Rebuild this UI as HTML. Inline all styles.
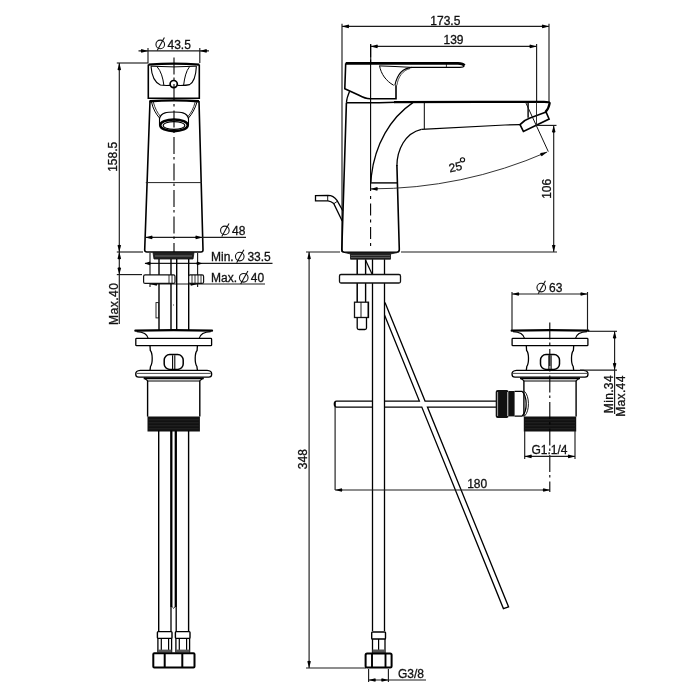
<!DOCTYPE html>
<html><head><meta charset="utf-8"><style>
html,body{margin:0;padding:0;background:#fff;width:700px;height:700px;overflow:hidden}
svg{display:block;will-change:transform}
text{font-family:"Liberation Sans",sans-serif}
</style></head><body>
<svg width="700" height="700" viewBox="0 0 700 700">
<rect width="700" height="700" fill="#fff"/>
<line x1="138.5" y1="50.9" x2="209" y2="50.9" stroke="#1c1c1c" stroke-width="1.15" />
<path d="M148.00,50.90 L141.30,52.70 Q140.10,50.90 141.30,49.10 Z" fill="#000"/>
<path d="M199.80,50.90 L206.50,49.10 Q207.70,50.90 206.50,52.70 Z" fill="#000"/>
<line x1="148" y1="48" x2="148" y2="63" stroke="#1c1c1c" stroke-width="1.15" />
<line x1="199.8" y1="48" x2="199.8" y2="63" stroke="#1c1c1c" stroke-width="1.15" />
<circle cx="160.25" cy="44.4" r="4.3" stroke="#111" stroke-width="1.1" fill="none"/>
<line x1="157.20000000000002" y1="50.6" x2="164.4" y2="37.5" stroke="#111" stroke-width="1.1"/>
<text x="167.5" y="48.9" font-size="12" text-anchor="start" fill="#111" stroke="#111" stroke-width="0.3">43.5</text>
<line x1="119.3" y1="63" x2="119.3" y2="324" stroke="#1c1c1c" stroke-width="1.15" />
<line x1="116.8" y1="63" x2="148" y2="63" stroke="#1c1c1c" stroke-width="1.15" />
<line x1="116.8" y1="252" x2="143" y2="252" stroke="#1c1c1c" stroke-width="1.15" />
<line x1="116.8" y1="274.6" x2="142" y2="274.6" stroke="#1c1c1c" stroke-width="1.15" />
<path d="M119.30,63.00 L121.10,69.70 Q119.30,70.90 117.50,69.70 Z" fill="#000"/>
<path d="M119.30,252.00 L117.50,245.30 Q119.30,244.10 121.10,245.30 Z" fill="#000"/>
<path d="M119.30,252.00 L121.10,258.70 Q119.30,259.90 117.50,258.70 Z" fill="#000"/>
<path d="M119.30,274.60 L117.50,267.90 Q119.30,266.70 121.10,267.90 Z" fill="#000"/>
<text x="117.5" y="171.8" font-size="12" text-anchor="start" fill="#111" stroke="#111" stroke-width="0.3" transform="rotate(-90 117.5 171.8)">158.5</text>
<text x="117.5" y="325" font-size="12" text-anchor="start" fill="#111" stroke="#111" stroke-width="0.3" transform="rotate(-90 117.5 325)" letter-spacing="0.5">Max.40</text>
<path d="M148.3,64.5 L148.3,98.3 L199.3,98.3 L199.3,64.5" stroke="#000" stroke-width="1.6" fill="none" />
<path d="M148.3,64.6 Q174,62.6 199.3,64.6" stroke="#000" stroke-width="2.2" fill="none" />
<path d="M151,66.2 Q174,67.6 196.4,66.2" stroke="#000" stroke-width="1.0" fill="none" />
<path d="M151,66.1 C151.5,74 154,82 160.4,85 C163,85.6 167,85.5 170.2,85.4" stroke="#000" stroke-width="1.1" fill="none" />
<path d="M157,66.6 C161,71 163,78 163.9,85.4" stroke="#000" stroke-width="1.0" fill="none" />
<path d="M196.4,66.1 C196,74 194,82 189.6,84.6 C186,85.6 181,85.5 177.4,85.4" stroke="#000" stroke-width="1.1" fill="none" />
<path d="M189.6,66.6 C186,71 184.5,78 183.6,85.4" stroke="#000" stroke-width="1.0" fill="none" />
<circle cx="173.7" cy="84.1" r="3.6" stroke="#000" stroke-width="1.7" fill="#fff"/>
<path d="M149.5,101.2 Q174,99.6 199,101.2" stroke="#000" stroke-width="2.4" fill="none" />
<path d="M150,101 L144.7,250 Q144.7,252 147,252 L201,252 Q203,252 203,250 L199,101" stroke="#000" stroke-width="1.6" fill="none" />
<line x1="145.8" y1="182.6" x2="201.8" y2="182.6" stroke="#222" stroke-width="1.0" />
<path d="M151.5,102 C153,109 156,114 159.5,118" stroke="#000" stroke-width="1.0" fill="none" />
<path d="M153.3,102 C155,108.5 157.5,113 160.5,116.5" stroke="#000" stroke-width="0.8" fill="none" />
<path d="M197,102 C195,109 192,114 188.5,118" stroke="#000" stroke-width="1.0" fill="none" />
<path d="M195.2,102 C193.5,108.5 191,113 188,116.5" stroke="#000" stroke-width="0.8" fill="none" />
<path d="M159.5,118.5 C161,112 168,112 174,112 C180,112 187,112 188.5,118.5" stroke="#000" stroke-width="1.2" fill="none" />
<path d="M159.5,118 L159.5,125 M188.5,118 L188.5,125" stroke="#000" stroke-width="1.1" fill="none" />
<ellipse cx="174" cy="125.3" rx="13.8" ry="5.9" stroke="#000" stroke-width="2.5" fill="#fff"/>
<ellipse cx="174" cy="125.5" rx="10.8" ry="3.9" stroke="#000" stroke-width="1.1" fill="#fff"/>
<line x1="145.4" y1="237.4" x2="246" y2="237.4" stroke="#1c1c1c" stroke-width="1.15" />
<path d="M145.40,237.40 L152.10,235.60 Q153.30,237.40 152.10,239.20 Z" fill="#000"/>
<path d="M202.50,237.40 L195.80,239.20 Q194.60,237.40 195.80,235.60 Z" fill="#000"/>
<circle cx="224.85" cy="230.4" r="4.3" stroke="#111" stroke-width="1.1" fill="none"/>
<line x1="221.8" y1="236.6" x2="229.0" y2="223.5" stroke="#111" stroke-width="1.1"/>
<text x="232" y="234.9" font-size="12" text-anchor="start" fill="#111" stroke="#111" stroke-width="0.3">48</text>
<line x1="174" y1="57.4" x2="174" y2="252" stroke="#000" stroke-width="1.1" stroke-dasharray="17,3,2.5,4"/>
<path d="M153,252.5 L194,252.5 L193,259 L154,259 Z" stroke="#111" stroke-width="0.8" fill="#222" />
<line x1="155" y1="256" x2="192" y2="256" stroke="#888" stroke-width="0.7" />
<line x1="150" y1="253" x2="150" y2="287" stroke="#1c1c1c" stroke-width="1.15" />
<line x1="197.6" y1="253" x2="197.6" y2="287" stroke="#1c1c1c" stroke-width="1.15" />
<line x1="145" y1="263.4" x2="272.5" y2="263.4" stroke="#1c1c1c" stroke-width="1.15" />
<path d="M144.50,263.40 L150.00,261.60 Q151.20,263.40 150.00,265.20 Z" fill="#000"/>
<path d="M202.50,263.40 L197.00,265.20 Q195.80,263.40 197.00,261.60 Z" fill="#000"/>
<text x="211" y="261.1" font-size="12" text-anchor="start" fill="#111" stroke="#111" stroke-width="0.3">Min.</text>
<circle cx="239.75" cy="256.6" r="4.3" stroke="#111" stroke-width="1.1" fill="none"/>
<line x1="236.70000000000002" y1="262.8" x2="243.9" y2="249.70000000000002" stroke="#111" stroke-width="1.1"/>
<text x="247.4" y="261.1" font-size="12" text-anchor="start" fill="#111" stroke="#111" stroke-width="0.3">33.5</text>
<line x1="150" y1="284" x2="265" y2="284" stroke="#1c1c1c" stroke-width="1.15" />
<path d="M150.00,284.00 L156.70,282.20 Q157.90,284.00 156.70,285.80 Z" fill="#000"/>
<path d="M197.60,284.00 L190.90,285.80 Q189.70,284.00 190.90,282.20 Z" fill="#000"/>
<text x="211" y="282.3" font-size="12" text-anchor="start" fill="#111" stroke="#111" stroke-width="0.3">Max.</text>
<circle cx="243.75" cy="277.8" r="4.3" stroke="#111" stroke-width="1.1" fill="none"/>
<line x1="240.70000000000002" y1="284.0" x2="247.9" y2="270.90000000000003" stroke="#111" stroke-width="1.1"/>
<text x="250.8" y="282.3" font-size="12" text-anchor="start" fill="#111" stroke="#111" stroke-width="0.3">40</text>
<line x1="159" y1="259" x2="159" y2="330.5" stroke="#000" stroke-width="1.4" />
<line x1="171" y1="259" x2="171" y2="330.5" stroke="#000" stroke-width="1.4" />
<line x1="176.7" y1="259" x2="176.7" y2="330.5" stroke="#000" stroke-width="1.4" />
<line x1="188.7" y1="259" x2="188.7" y2="330.5" stroke="#000" stroke-width="1.4" />
<rect x="143.6" y="274.9" width="31.4" height="8.5" stroke="#111" stroke-width="1.2" fill="#fff" rx="1.5"/>
<line x1="169" y1="275" x2="169" y2="283" stroke="#000" stroke-width="0.8" />
<line x1="172" y1="275" x2="172" y2="283" stroke="#000" stroke-width="0.8" />
<rect x="188.7" y="274.9" width="14.9" height="8.5" stroke="#111" stroke-width="1.2" fill="#fff" rx="1.5"/>
<line x1="192" y1="275" x2="192" y2="283" stroke="#000" stroke-width="0.8" />
<line x1="195" y1="275" x2="195" y2="283" stroke="#000" stroke-width="0.8" />
<line x1="198" y1="275" x2="198" y2="283" stroke="#000" stroke-width="0.8" />
<line x1="201" y1="275" x2="201" y2="283" stroke="#000" stroke-width="0.8" />
<rect x="156" y="302.6" width="2.6" height="15.3" stroke="#111" stroke-width="0.9" fill="#fff" rx="0"/>
<line x1="173.5" y1="304" x2="173.5" y2="306" stroke="#666" stroke-width="0.6" />
<path d="M135.39999999999998,330.7 Q173.7,329.6 212.0,330.7" stroke="#000" stroke-width="2.3" fill="none" stroke-linecap="round"/>
<path d="M136.7,331.6 C143.7,332.0 147.2,334.0 148.2,338.3 M210.7,331.6 C203.7,332.0 200.2,334.0 199.2,338.3" stroke="#000" stroke-width="1.1" fill="none" />
<rect x="135.79999999999998" y="338.4" width="75.8" height="7.3" stroke="#000" stroke-width="1.3" fill="#fff" rx="0.8"/>
<path d="M150.0,345.7 L150.29999999999998,350.5 C152.7,353.0 152.89999999999998,363.0 150.5,366.5 L150.0,370.4 M197.39999999999998,345.7 L197.1,350.5 C194.7,353.0 194.5,363.0 196.89999999999998,366.5 L197.39999999999998,370.4" stroke="#000" stroke-width="1.3" fill="none" />
<rect x="164.2" y="354.6" width="19" height="14.8" stroke="#000" stroke-width="1.5" fill="#fff" rx="5.5"/>
<line x1="172.6" y1="355.2" x2="172.6" y2="369.0" stroke="#000" stroke-width="1.1" />
<line x1="174.79999999999998" y1="355.2" x2="174.79999999999998" y2="369.0" stroke="#000" stroke-width="1.1" />
<path d="M140.29999999999998,370.4 L207.1,370.4 C210.2,370.6 211.7,372.0 211.7,374.0 C211.7,376.0 211.2,377.2 208.7,377.2 L138.7,377.2 C136.2,377.2 135.7,376.0 135.7,374.0 C135.7,372.0 137.2,370.6 140.29999999999998,370.4 Z" stroke="#000" stroke-width="1.3" fill="#fff" />
<line x1="136.7" y1="373.4" x2="210.7" y2="373.4" stroke="#333" stroke-width="0.9" />
<path d="M143.7,378.3 L203.7,378.3" stroke="#000" stroke-width="1.8" fill="none" />
<path d="M144.1,378.0 L147.89999999999998,381.0 L199.5,381.0 L203.29999999999998,378.0" stroke="#000" stroke-width="1.1" fill="none" />
<line x1="147.6" y1="381.0" x2="147.6" y2="416.6" stroke="#000" stroke-width="1.4" />
<line x1="199.79999999999998" y1="381.0" x2="199.79999999999998" y2="416.6" stroke="#000" stroke-width="1.4" />
<rect x="147.5" y="416.5" width="52.4" height="15" stroke="#000" stroke-width="0" fill="#111" rx="0"/>
<line x1="148.7" y1="419.8" x2="198.7" y2="419.8" stroke="#3a3a3a" stroke-width="0.5" />
<line x1="148.7" y1="422.8" x2="198.7" y2="422.8" stroke="#3a3a3a" stroke-width="0.5" />
<line x1="148.7" y1="425.8" x2="198.7" y2="425.8" stroke="#3a3a3a" stroke-width="0.5" />
<line x1="148.7" y1="428.8" x2="198.7" y2="428.8" stroke="#3a3a3a" stroke-width="0.5" />
<line x1="158.7" y1="430.6" x2="158.7" y2="632" stroke="#000" stroke-width="1.4" />
<line x1="188.6" y1="430.6" x2="188.6" y2="632" stroke="#000" stroke-width="1.4" />
<line x1="171.3" y1="430.6" x2="171.3" y2="607" stroke="#000" stroke-width="2.3" />
<line x1="175.8" y1="430.6" x2="175.8" y2="607" stroke="#000" stroke-width="2.3" />
<line x1="171" y1="607" x2="171" y2="632" stroke="#000" stroke-width="1.3" />
<line x1="176.2" y1="607" x2="176.2" y2="632" stroke="#000" stroke-width="1.3" />
<path d="M172.3,607 Q173.6,609.5 174.9,607" stroke="#000" stroke-width="0.9" fill="none" />
<rect x="157.4" y="631.6" width="14.6" height="6.8" stroke="#000" stroke-width="1.4" fill="#fff" rx="0.8"/>
<line x1="157.9" y1="638.4" x2="157.9" y2="652.6" stroke="#000" stroke-width="1.3" />
<line x1="171.6" y1="638.4" x2="171.6" y2="652.6" stroke="#000" stroke-width="1.3" />
<line x1="161.3" y1="638.4" x2="161.3" y2="650" stroke="#000" stroke-width="1.2" />
<line x1="168.6" y1="638.4" x2="168.6" y2="650" stroke="#000" stroke-width="1.2" />
<rect x="157.9" y="649.6" width="13.7" height="3" stroke="#000" stroke-width="0" fill="#555" rx="0"/>
<rect x="175.4" y="631.6" width="14.6" height="6.8" stroke="#000" stroke-width="1.4" fill="#fff" rx="0.8"/>
<line x1="175.9" y1="638.4" x2="175.9" y2="652.6" stroke="#000" stroke-width="1.3" />
<line x1="189.6" y1="638.4" x2="189.6" y2="652.6" stroke="#000" stroke-width="1.3" />
<line x1="179.3" y1="638.4" x2="179.3" y2="650" stroke="#000" stroke-width="1.2" />
<line x1="186.6" y1="638.4" x2="186.6" y2="650" stroke="#000" stroke-width="1.2" />
<rect x="175.9" y="649.6" width="13.7" height="3" stroke="#000" stroke-width="0" fill="#555" rx="0"/>
<rect x="153.3" y="653.2" width="41.2" height="14.4" stroke="#000" stroke-width="2.0" fill="#fff" rx="1"/>
<line x1="164.7" y1="653" x2="164.7" y2="667.6" stroke="#000" stroke-width="2.0" />
<line x1="182.3" y1="653" x2="182.3" y2="667.6" stroke="#000" stroke-width="2.0" />
<line x1="342" y1="26.4" x2="549" y2="26.4" stroke="#1c1c1c" stroke-width="1.15" />
<path d="M342.00,26.40 L348.70,24.60 Q349.90,26.40 348.70,28.20 Z" fill="#000"/>
<path d="M549.00,26.40 L542.30,28.20 Q541.10,26.40 542.30,24.60 Z" fill="#000"/>
<line x1="342" y1="23.7" x2="342" y2="252" stroke="#1c1c1c" stroke-width="1.15" />
<line x1="549" y1="23.7" x2="549" y2="102" stroke="#1c1c1c" stroke-width="1.15" />
<text x="430.3" y="24.9" font-size="12" text-anchor="start" fill="#111" stroke="#111" stroke-width="0.3">173.5</text>
<line x1="370.7" y1="46.4" x2="536.6" y2="46.4" stroke="#1c1c1c" stroke-width="1.15" />
<path d="M370.70,46.40 L377.40,44.60 Q378.60,46.40 377.40,48.20 Z" fill="#000"/>
<path d="M536.60,46.40 L529.90,48.20 Q528.70,46.40 529.90,44.60 Z" fill="#000"/>
<line x1="536.6" y1="44" x2="536.6" y2="101" stroke="#1c1c1c" stroke-width="1.15" />
<line x1="370.7" y1="44" x2="370.7" y2="62" stroke="#1c1c1c" stroke-width="1.15" />
<text x="443.5" y="43.8" font-size="12" text-anchor="start" fill="#111" stroke="#111" stroke-width="0.3">139</text>
<line x1="370.6" y1="44.3" x2="370.6" y2="57.2" stroke="#000" stroke-width="1.1" />
<line x1="370.6" y1="59.5" x2="370.6" y2="190.9" stroke="#000" stroke-width="1.1" />
<line x1="370.6" y1="196" x2="370.6" y2="248" stroke="#000" stroke-width="1.1" stroke-dasharray="3,4.5,12,4"/>
<path d="M345.7,63.2 L344.8,88.7 L359,95.3 C363,97.5 366,98.8 370,98.8 L396,98.8 L396,85.3" stroke="#000" stroke-width="1.6" fill="none" />
<path d="M345.7,63.4 L458,63.4 C461,63.5 463.5,64.3 464.4,65.5" stroke="#000" stroke-width="2.8" fill="none" />
<path d="M464.4,65.5 C463.8,67 462.5,67.4 460,67.4 L412,67.4 C403,68 397,75 394.9,85.3" stroke="#000" stroke-width="1.1" fill="none" />
<path d="M379.5,65.9 L395,66.5 L412,67.4" stroke="#000" stroke-width="1.0" fill="none" />
<path d="M396.9,85.3 C398,77 403,70 410,68.6" stroke="#000" stroke-width="0.7" fill="none" />
<line x1="446.4" y1="62.5" x2="446.4" y2="67.5" stroke="#000" stroke-width="0.8" />
<path d="M379.5,65.6 C381,74 386,81 393.7,85.3" stroke="#000" stroke-width="1.0" fill="none" />
<path d="M349.6,91.3 C347.8,95.5 346.6,99.5 346.4,102.7" stroke="#000" stroke-width="1.3" fill="none" />
<path d="M346.4,102.7 L379,102.7 L396,102.2" stroke="#000" stroke-width="1.5" fill="none" />
<path d="M394,102.1 L480,101.9 L544,101.9 C548,101.9 550,102.3 549.6,103.5 C549,107 547.5,110 545.3,112.1" stroke="#000" stroke-width="2.2" fill="none" />
<path d="M346.4,103 L341.8,249.5 Q341.8,252.2 344.5,252.2 L396.6,252.2 Q399.3,252.2 399.3,249.5 L396.9,165" stroke="#000" stroke-width="1.6" fill="none" />
<path d="M412.9,102.6 C390,118 375,145 371.4,175.7 L370.9,182.3" stroke="#000" stroke-width="1.3" fill="none" />
<path d="M421.4,129.3 C405,133 397,150 396.9,166" stroke="#000" stroke-width="1.3" fill="none" />
<line x1="424.3" y1="102.6" x2="424.3" y2="129" stroke="#000" stroke-width="1.0" />
<path d="M421.4,129.3 L505,125 L520,124.6" stroke="#000" stroke-width="1.2" fill="none" />
<path d="M520,124.6 C523,121.3 526,119.5 530,118.1 L546.1,112.1 L549.1,119 L523.4,131.4 Z" stroke="#000" stroke-width="1.6" fill="#fff" />
<line x1="528.1" y1="102.7" x2="528.1" y2="117.7" stroke="#000" stroke-width="1.4" />
<line x1="536.5" y1="102" x2="536.5" y2="124.3" stroke="#1c1c1c" stroke-width="0.9" />
<line x1="370.6" y1="182.9" x2="397.3" y2="182.9" stroke="#000" stroke-width="1.4" />
<path d="M525.6,102.3 L548.3,151.6" stroke="#111" stroke-width="1.0" fill="none" />
<path d="M370.6,188.9 A441,441 0 0 0 547.15,152.02" stroke="#1c1c1c" stroke-width="0.9" fill="none" />
<path d="M370.60,188.90 L377.30,187.10 Q378.50,188.90 377.30,190.70 Z" fill="#000"/>
<path d="M547.15,152.02 L541.73,156.35 Q539.91,155.18 540.29,153.05 Z" fill="#000"/>
<text x="449.7" y="172.5" font-size="12" text-anchor="start" fill="#111" stroke="#111" stroke-width="0.3" transform="rotate(-12 449.7 172.5)">25</text>
<circle cx="462.5" cy="159.8" r="2.1" stroke="#111" stroke-width="1.15" fill="none"/>
<line x1="536" y1="125.4" x2="556.5" y2="125.4" stroke="#1c1c1c" stroke-width="1.15" />
<line x1="553.7" y1="125.4" x2="553.7" y2="252" stroke="#1c1c1c" stroke-width="1.15" />
<path d="M553.70,125.40 L555.50,132.10 Q553.70,133.30 551.90,132.10 Z" fill="#000"/>
<path d="M553.70,252.00 L551.90,245.30 Q553.70,244.10 555.50,245.30 Z" fill="#000"/>
<text x="551.5" y="198.8" font-size="12" text-anchor="start" fill="#111" stroke="#111" stroke-width="0.3" transform="rotate(-90 551.5 198.8)">106</text>
<line x1="306" y1="252" x2="340" y2="252" stroke="#1c1c1c" stroke-width="1.15" />
<line x1="401" y1="252" x2="557" y2="252" stroke="#1c1c1c" stroke-width="1.15" />
<line x1="309.1" y1="252" x2="309.1" y2="668" stroke="#1c1c1c" stroke-width="1.15" />
<path d="M309.10,252.00 L310.90,258.70 Q309.10,259.90 307.30,258.70 Z" fill="#000"/>
<path d="M309.10,668.00 L307.30,661.30 Q309.10,660.10 310.90,661.30 Z" fill="#000"/>
<line x1="306" y1="668" x2="366" y2="668" stroke="#1c1c1c" stroke-width="1.15" />
<text x="307.2" y="469.2" font-size="12" text-anchor="start" fill="#111" stroke="#111" stroke-width="0.3" transform="rotate(-90 307.2 469.2)">348</text>
<path d="M342.8,210.7 L337,200.4 C335,197.5 332,195.3 328,195.3 L315.5,195.6 L315.5,200.8 L328,200.8 C330,201 332,202 333.8,203.6 L342.2,221" stroke="#000" stroke-width="1.3" fill="none" />
<line x1="327.7" y1="195.6" x2="327.7" y2="200.8" stroke="#000" stroke-width="0.9" />
<line x1="334" y1="203.6" x2="337" y2="201.5" stroke="#000" stroke-width="0.9" />
<path d="M345,252.6 L397,252.6 L390.5,254 L390.5,259.2 L350.5,259.2 L350.5,254 Z" stroke="#111" stroke-width="0.8" fill="#222" />
<line x1="351" y1="255.5" x2="390" y2="255.5" stroke="#777" stroke-width="0.6" />
<line x1="351" y1="257.5" x2="390" y2="257.5" stroke="#777" stroke-width="0.6" />
<line x1="357.2" y1="259.3" x2="357.2" y2="302.2" stroke="#000" stroke-width="1.5" />
<line x1="365.6" y1="259.3" x2="365.6" y2="302.2" stroke="#000" stroke-width="1.4" />
<rect x="354.5" y="302.2" width="14" height="15.3" stroke="#111" stroke-width="1.3" fill="#fff" rx="0"/>
<line x1="361" y1="302.2" x2="361" y2="317.5" stroke="#000" stroke-width="0.9" />
<line x1="368.2" y1="302.5" x2="368.2" y2="317.2" stroke="#000" stroke-width="1.2" />
<path d="M357.2,317.5 L357.2,328 Q357.2,329.5 359,329.5 L364.8,329.5 Q366.5,329.5 366.5,328 L366.5,317.5" stroke="#000" stroke-width="1.3" fill="none" />
<line x1="372.5" y1="259.3" x2="372.5" y2="631" stroke="#000" stroke-width="1.3" />
<line x1="384.5" y1="259.3" x2="384.5" y2="631" stroke="#000" stroke-width="1.3" />
<path d="M365.5,260 L372,274" stroke="#000" stroke-width="1.2" fill="none" />
<rect x="339.5" y="274.5" width="61" height="8.5" stroke="#111" stroke-width="1.3" fill="#fff" rx="1.5"/>
<path d="M385,302.5 L425.04,401.1 L496,401.1 M496,407.1 L427.47,407.1 L508.6,606.9 L503.4,608.6 L421.80,407.1 L384.5,407.1 M384.5,401.1 L419.37,401.1 L384.5,315" stroke="#000" stroke-width="1.3" fill="none" stroke-linejoin="miter"/>
<path d="M372.5,401.1 L336.5,401.1 Q334.3,401.1 334.3,404.1 Q334.3,407.1 336.5,407.1 L372.5,407.1" stroke="#000" stroke-width="1.3" fill="none" />
<line x1="335" y1="402" x2="335" y2="406" stroke="#000" stroke-width="1.6" />
<rect x="495.7" y="390" width="12.9" height="27.9" stroke="#111" stroke-width="0" fill="#111" rx="2"/>
<rect x="508.6" y="391" width="6" height="25.4" stroke="#111" stroke-width="0" fill="#111" rx="0"/>
<line x1="497.6" y1="392" x2="497.6" y2="416" stroke="#ccc" stroke-width="0.8" />
<line x1="507.5" y1="392" x2="507.5" y2="416" stroke="#ccc" stroke-width="0.8" />
<path d="M514.6,391.4 L522.1,391.4 C527,396 528,411 522.1,416.1 L514.6,416.1" stroke="#000" stroke-width="1.3" fill="none" />
<path d="M524.5,391.4 C529.5,396 530,411 524.5,416.1" stroke="#000" stroke-width="0.9" fill="none" />
<path d="M511.7,330.7 Q550,329.6 588.3,330.7" stroke="#000" stroke-width="2.3" fill="none" stroke-linecap="round"/>
<path d="M513,331.6 C520,332.0 523.5,334.0 524.5,338.3 M587,331.6 C580,332.0 576.5,334.0 575.5,338.3" stroke="#000" stroke-width="1.1" fill="none" />
<rect x="512.1" y="338.4" width="75.8" height="7.3" stroke="#000" stroke-width="1.3" fill="#fff" rx="0.8"/>
<path d="M526.3,345.7 L526.6,350.5 C529,353.0 529.2,363.0 526.8,366.5 L526.3,370.4 M573.7,345.7 L573.4,350.5 C571,353.0 570.8,363.0 573.2,366.5 L573.7,370.4" stroke="#000" stroke-width="1.3" fill="none" />
<rect x="540.5" y="354.6" width="19" height="14.8" stroke="#000" stroke-width="1.5" fill="#fff" rx="5.5"/>
<line x1="548.9" y1="355.2" x2="548.9" y2="369.0" stroke="#000" stroke-width="1.1" />
<line x1="551.1" y1="355.2" x2="551.1" y2="369.0" stroke="#000" stroke-width="1.1" />
<path d="M516.6,370.4 L583.4,370.4 C586.5,370.6 588,372.0 588,374.0 C588,376.0 587.5,377.2 585,377.2 L515,377.2 C512.5,377.2 512,376.0 512,374.0 C512,372.0 513.5,370.6 516.6,370.4 Z" stroke="#000" stroke-width="1.3" fill="#fff" />
<line x1="513" y1="373.4" x2="587" y2="373.4" stroke="#333" stroke-width="0.9" />
<path d="M520,378.3 L580,378.3" stroke="#000" stroke-width="1.8" fill="none" />
<path d="M520.4,378.0 L524.2,381.0 L575.8,381.0 L579.6,378.0" stroke="#000" stroke-width="1.1" fill="none" />
<line x1="523.9" y1="381.0" x2="523.9" y2="416.6" stroke="#000" stroke-width="1.4" />
<line x1="576.1" y1="381.0" x2="576.1" y2="416.6" stroke="#000" stroke-width="1.4" />
<rect x="523.8" y="416.5" width="52.4" height="15" stroke="#000" stroke-width="0" fill="#111" rx="0"/>
<line x1="525" y1="419.8" x2="575" y2="419.8" stroke="#3a3a3a" stroke-width="0.5" />
<line x1="525" y1="422.8" x2="575" y2="422.8" stroke="#3a3a3a" stroke-width="0.5" />
<line x1="525" y1="425.8" x2="575" y2="425.8" stroke="#3a3a3a" stroke-width="0.5" />
<line x1="525" y1="428.8" x2="575" y2="428.8" stroke="#3a3a3a" stroke-width="0.5" />
<line x1="549.8" y1="322.5" x2="549.8" y2="492" stroke="#000" stroke-width="1.1" stroke-dasharray="17,3,2.5,4"/>
<line x1="512" y1="294" x2="587.5" y2="294" stroke="#1c1c1c" stroke-width="1.15" />
<path d="M512.00,294.00 L518.70,292.20 Q519.90,294.00 518.70,295.80 Z" fill="#000"/>
<path d="M587.50,294.00 L580.80,295.80 Q579.60,294.00 580.80,292.20 Z" fill="#000"/>
<line x1="512" y1="292" x2="512" y2="330" stroke="#1c1c1c" stroke-width="1.15" />
<line x1="587.5" y1="292" x2="587.5" y2="330" stroke="#1c1c1c" stroke-width="1.15" />
<circle cx="541.25" cy="287.6" r="4.3" stroke="#111" stroke-width="1.1" fill="none"/>
<line x1="538.1999999999999" y1="293.8" x2="545.4" y2="280.70000000000005" stroke="#111" stroke-width="1.1"/>
<text x="549" y="292.1" font-size="12" text-anchor="start" fill="#111" stroke="#111" stroke-width="0.3">63</text>
<line x1="588" y1="331.3" x2="617" y2="331.3" stroke="#1c1c1c" stroke-width="1.15" />
<line x1="580" y1="370.1" x2="617" y2="370.1" stroke="#1c1c1c" stroke-width="1.15" />
<line x1="614.6" y1="331.3" x2="614.6" y2="414" stroke="#1c1c1c" stroke-width="1.15" />
<path d="M614.60,331.30 L616.40,338.00 Q614.60,339.20 612.80,338.00 Z" fill="#000"/>
<path d="M614.60,370.10 L612.80,363.40 Q614.60,362.20 616.40,363.40 Z" fill="#000"/>
<text x="613.2" y="413.2" font-size="12" text-anchor="start" fill="#111" stroke="#111" stroke-width="0.3" transform="rotate(-90 613.2 413.2)" letter-spacing="0.35">Min.34</text>
<text x="625.5" y="416.8" font-size="12" text-anchor="start" fill="#111" stroke="#111" stroke-width="0.3" transform="rotate(-90 625.5 416.8)" letter-spacing="0.35">Max.44</text>
<line x1="524.7" y1="431" x2="524.7" y2="459" stroke="#1c1c1c" stroke-width="1.15" />
<line x1="575" y1="431" x2="575" y2="459" stroke="#1c1c1c" stroke-width="1.15" />
<line x1="524.7" y1="456.4" x2="575" y2="456.4" stroke="#1c1c1c" stroke-width="1.15" />
<path d="M524.70,456.40 L531.40,454.60 Q532.60,456.40 531.40,458.20 Z" fill="#000"/>
<path d="M575.00,456.40 L568.30,458.20 Q567.10,456.40 568.30,454.60 Z" fill="#000"/>
<text x="531.4" y="454.3" font-size="12" text-anchor="start" fill="#111" stroke="#111" stroke-width="0.3">G1.1/4</text>
<line x1="335.1" y1="407" x2="335.1" y2="490" stroke="#1c1c1c" stroke-width="1.15" />
<line x1="335.1" y1="490" x2="550" y2="490" stroke="#1c1c1c" stroke-width="1.15" />
<path d="M335.10,490.00 L341.80,488.20 Q343.00,490.00 341.80,491.80 Z" fill="#000"/>
<path d="M550.00,490.00 L543.30,491.80 Q542.10,490.00 543.30,488.20 Z" fill="#000"/>
<text x="467.2" y="488.2" font-size="12" text-anchor="start" fill="#111" stroke="#111" stroke-width="0.3">180</text>
<rect x="371.7" y="632" width="13.8" height="7" stroke="#000" stroke-width="1.4" fill="#fff" rx="0.8"/>
<line x1="372.5" y1="639" x2="372.5" y2="653" stroke="#000" stroke-width="1.3" />
<line x1="385" y1="639" x2="385" y2="653" stroke="#000" stroke-width="1.3" />
<line x1="378.6" y1="639" x2="378.6" y2="650" stroke="#000" stroke-width="1.2" />
<rect x="372.5" y="649.5" width="12.5" height="3.5" stroke="#000" stroke-width="0" fill="#555" rx="0"/>
<rect x="365.6" y="653.5" width="26" height="14" stroke="#000" stroke-width="2.0" fill="#fff" rx="1.5"/>
<line x1="372" y1="653.5" x2="372" y2="667.5" stroke="#000" stroke-width="1.9" />
<line x1="385.5" y1="653.5" x2="385.5" y2="667.5" stroke="#000" stroke-width="1.9" />
<line x1="368.6" y1="669" x2="368.6" y2="682" stroke="#1c1c1c" stroke-width="1.15" />
<line x1="388.4" y1="669" x2="388.4" y2="682" stroke="#1c1c1c" stroke-width="1.15" />
<line x1="368.6" y1="680" x2="426" y2="680" stroke="#1c1c1c" stroke-width="1.15" />
<path d="M368.60,680.00 L375.30,678.20 Q376.50,680.00 375.30,681.80 Z" fill="#000"/>
<path d="M388.40,680.00 L381.70,681.80 Q380.50,680.00 381.70,678.20 Z" fill="#000"/>
<text x="398" y="678" font-size="12" text-anchor="start" fill="#111" stroke="#111" stroke-width="0.3">G3/8</text>
</svg>
</body></html>
